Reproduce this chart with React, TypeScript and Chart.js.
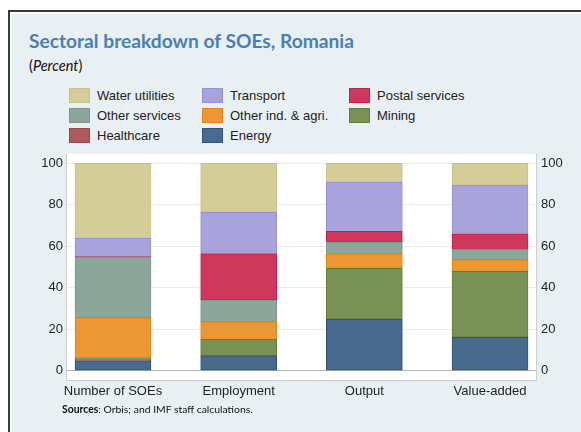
import React, { useEffect, useRef } from "react";
import { Chart, registerables } from "chart.js";
Chart.register(...registerables);

const categories = ["Number of SOEs", "Employment", "Output", "Value-added"];
const energy = [4.7, 7.2, 24.8, 16.1];
const healthcare = [0.5, 0, 0, 0];
const mining = [0.9, 7.9, 24.6, 31.8];
const otherInd = [19.5, 8.4, 7.0, 5.5];
const otherServices = [29.2, 10.6, 5.5, 5.1];
const postal = [0.2, 22.3, 5.3, 7.4];
const transport = [8.8, 20.0, 23.6, 23.6];
const water = [36.2, 23.6, 9.2, 10.5];
const yTicks = [0, 20, 40, 60, 80, 100];

const series = [
  { label: "Energy", values: energy, color: "#476a8d", border: "#2f5479" },
  { label: "Healthcare", values: healthcare, color: "#a95b60", border: "#98454c" },
  { label: "Mining", values: mining, color: "#7a9155", border: "#62802f" },
  { label: "Other ind. & agri.", values: otherInd, color: "#eb9834", border: "#e28515" },
  { label: "Other services", values: otherServices, color: "#8ca69b", border: "#7b968b" },
  { label: "Postal services", values: postal, color: "#cd385c", border: "#c42249" },
  { label: "Transport", values: transport, color: "#a9a3db", border: "#9890d5" },
  { label: "Water utilities", values: water, color: "#d4cd97", border: "#c9c088" },
];

const legendOrder = [
  "Water utilities", "Transport", "Postal services",
  "Other services", "Other ind. & agri.", "Mining",
  "Healthcare", "Energy",
];

const bgPlugin = {
  id: "plotBg",
  beforeDraw(chart: any) {
    const { ctx, chartArea: a } = chart;
    ctx.save();
    ctx.fillStyle = "#ffffff";
    ctx.fillRect(a.left, a.top, a.right - a.left, a.bottom - a.top);
    ctx.restore();
  },
};

const tickFont = { family: "'Liberation Sans', Arial, sans-serif", size: 13 };

export default function App() {
  const ref = useRef<HTMLCanvasElement | null>(null);
  useEffect(() => {
    document.body.style.margin = "0";
    document.body.style.overflow = "hidden";
    const setTicks = (s: any) => {
      s.ticks = yTicks.map((v) => ({ value: v }));
    };
    const chart = new Chart(ref.current as HTMLCanvasElement, {
      type: "bar",
      data: {
        datasets: series.map((s) => ({
          label: s.label,
          data: s.values.map((v, i) => ({ x: i, y: v })),
          backgroundColor: s.color,
          borderColor: s.border,
          borderWidth: 1,
          borderSkipped: false,
          barThickness: 76,
        })),
      } as any,
      options: {
        animation: false,
        responsive: false,
        devicePixelRatio: 1,
        layout: { padding: { top: 14, left: 0, right: 0, bottom: 0 } },
        plugins: { legend: { display: false }, tooltip: { enabled: false }, title: { display: false } },
        scales: {
          x: {
            type: "linear",
            stacked: true,
            offset: false,
            min: -0.374,
            max: 3.366,
            grid: { display: false, offset: false, drawTicks: false, tickLength: 0 },
            border: { display: true, color: "#cfcfcf", width: 1 },
            afterBuildTicks: (s: any) => {
              s.ticks = categories.map((_, i) => ({ value: i }));
            },
            afterFit: (s: any) => {
              s.height = 30;
            },
            ticks: {
              autoSkip: false,
              maxRotation: 0,
              padding: 4,
              color: "#222",
              font: tickFont,
              callback: (v: any) => categories[v] ?? "",
            },
          },
          y: {
            type: "linear",
            stacked: true,
            position: "left",
            min: -4.5,
            max: 104.5,
            afterBuildTicks: setTicks,
            afterFit: (s: any) => {
              s.width = 66;
            },
            grid: {
              drawTicks: false,
              color: (c: any) => (c.tick && c.tick.value === 0 ? "#b4b4b4" : "#e4ecf0"),
              lineWidth: 1,
            },
            border: { display: true, color: "#cfcfcf", width: 1 },
            ticks: { padding: 3, color: "#222", font: tickFont },
          },
          y2: {
            type: "linear",
            position: "right",
            min: -4.5,
            max: 104.5,
            afterBuildTicks: setTicks,
            afterFit: (s: any) => {
              s.width = 45;
            },
            grid: { display: false, drawTicks: false },
            border: { display: true, color: "#cfcfcf", width: 1 },
            ticks: { padding: 5, color: "#222", font: tickFont },
          },
        },
      } as any,
      plugins: [bgPlugin],
    });
    return () => chart.destroy();
  }, []);

  const colorOf = (name: string) => series.find((s) => s.label === name)!;
  const colX = [69, 202, 349];
  const rowY = [88, 108, 128];

  return (
    <div style={{ position: "relative", width: 581, height: 432, overflow: "hidden", background: "#fff" }}>
      <div
        style={{
          position: "absolute",
          left: 8,
          top: 10,
          width: 620,
          height: 460,
          border: "2px solid #3a3a3a",
          background: "#fff",
        }}
      >
        <div style={{ position: "absolute", left: 2, top: 2, right: 0, bottom: 0, background: "#e9f0f3" }} />
      </div>
      <div
        style={{
          position: "absolute",
          left: 29,
          top: 28,
          fontFamily: "Lato, 'Open Sans', sans-serif",
          fontWeight: 700,
          fontSize: 19.2,
          color: "#4a7fb1",
          lineHeight: "26px",
          whiteSpace: "nowrap",
        }}
      >
        Sectoral breakdown of SOEs, Romania
      </div>
      <div
        style={{
          position: "absolute",
          left: 29,
          top: 57,
          fontFamily: "Lato, 'Open Sans', sans-serif",
          fontSize: 14.5,
          color: "#111",
          lineHeight: "18px",
          whiteSpace: "nowrap",
        }}
      >
        (<i>Percent</i>)
      </div>
      {legendOrder.map((name, idx) => {
        const s = colorOf(name);
        const c = idx % 3;
        const r = Math.floor(idx / 3);
        return (
          <div key={name}>
            <div
              style={{
                position: "absolute",
                left: colX[c],
                top: rowY[r],
                width: 19,
                height: 13,
                background: s.color,
                border: `1px solid ${s.border}`,
              }}
            />
            <div
              style={{
                position: "absolute",
                left: colX[c] + 28,
                top: rowY[r] - 1,
                fontFamily: "'Liberation Sans', Arial, sans-serif",
                fontSize: 13,
                lineHeight: "17px",
                color: "#222",
                whiteSpace: "nowrap",
              }}
            >
              {name}
            </div>
          </div>
        );
      })}
      <canvas
        ref={ref}
        width={581}
        height={270}
        style={{ position: "absolute", left: 0, top: 140, width: 581, height: 270 }}
      />
      <div
        style={{
          position: "absolute",
          left: 62,
          top: 402,
          fontFamily: "Lato, 'Open Sans', sans-serif",
          fontSize: 10.4,
          lineHeight: "14px",
          color: "#111",
          whiteSpace: "nowrap",
        }}
      >
        <b>Sources</b>: Orbis; and IMF staff calculations.
      </div>
    </div>
  );
}
